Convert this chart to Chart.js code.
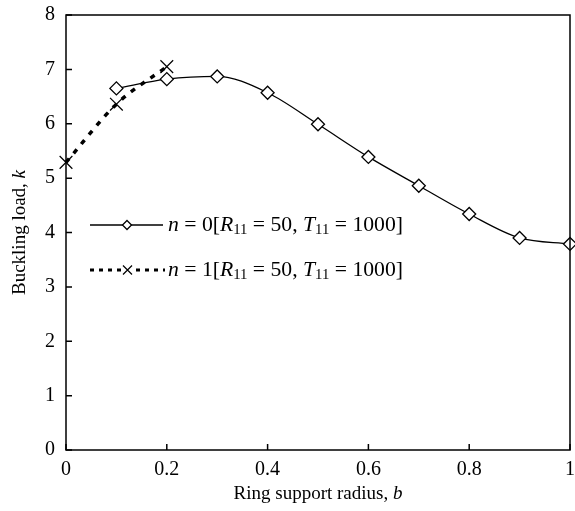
<!DOCTYPE html>
<html>
<head>
<meta charset="utf-8">
<script src="https://cdn.jsdelivr.net/npm/chart.js@4.4.1/dist/chart.umd.min.js"></script>
<style>
  html, body { margin: 0; padding: 0; background: #fff; }
</style>
</head>
<body>
<canvas id="myChart" width="575" height="511"></canvas>
<script>
// data
const radiusN0 = [0.1, 0.2, 0.3, 0.4, 0.5, 0.6, 0.7, 0.8, 0.9, 1.0]
const loadN0 = [6.65, 6.82, 6.87, 6.57, 5.99, 5.39, 4.86, 4.34, 3.90, 3.79]
const radiusN1 = [0, 0.1, 0.2]
const loadN1 = [5.29, 6.36, 7.05]
const xTicks = [0, 0.2, 0.4, 0.6, 0.8, 1]
const yTicks = [0, 1, 2, 3, 4, 5, 6, 7, 8]
const legendLabels = ['n = 0', 'n = 1']

const FONT = 'Liberation Serif'
Chart.defaults.font.family = FONT
Chart.defaults.font.size = 20
Chart.defaults.color = '#000'

// text with italic parts and subscripts
function drawRich(ctx, x, y, segs, size){
    let cx = x
    segs.forEach(s => {
        const fs = s.sub ? size * 0.68 : size
        ctx.font = `${s.it ? 'italic ' : ''}${fs}px "${FONT}"`
        ctx.fillText(s.t, cx, s.sub ? y + size * 0.22 : y)
        cx += ctx.measureText(s.t).width
    })
    return cx - x
}
function richWidth(ctx, segs, size){
    let w = 0
    segs.forEach(s => {
        const fs = s.sub ? size * 0.68 : size
        ctx.font = `${s.it ? 'italic ' : ''}${fs}px "${FONT}"`
        w += ctx.measureText(s.t).width
    })
    return w
}
function legendSegs(n){
    return [
        {t: 'n', it: true}, {t: ' = ' + n + '['}, {t: 'R', it: true}, {t: '11', sub: true},
        {t: ' = 50, '}, {t: 'T', it: true}, {t: '11', sub: true}, {t: ' = 1000]'}
    ]
}

const framePlugin = {
    id: 'frame',
    afterDraw(chart){
        const {ctx, chartArea: a, scales} = chart
        ctx.save()
        ctx.strokeStyle = '#000'
        ctx.lineWidth = 1.5
        ctx.strokeRect(a.left, a.top, a.right - a.left, a.bottom - a.top)
        // inward ticks
        ctx.beginPath()
        xTicks.forEach(v => {
            const px = scales.x.getPixelForValue(v)
            ctx.moveTo(px, a.bottom); ctx.lineTo(px, a.bottom - 6)
        })
        yTicks.forEach(v => {
            const py = scales.y.getPixelForValue(v)
            ctx.moveTo(a.left, py); ctx.lineTo(a.left + 6, py)
        })
        ctx.stroke()

        // axis titles
        ctx.fillStyle = '#000'
        ctx.textBaseline = 'middle'
        const xt = [{t: 'Ring support radius, '}, {t: 'b', it: true}]
        const xw = richWidth(ctx, xt, 19)
        drawRich(ctx, (a.left + a.right) / 2 - xw / 2, 494, xt, 19)
        const yt = [{t: 'Buckling load, '}, {t: 'k', it: true}]
        const yw = richWidth(ctx, yt, 19)
        ctx.save()
        ctx.translate(20, (a.top + a.bottom) / 2)
        ctx.rotate(-Math.PI / 2)
        drawRich(ctx, -yw / 2, 0, yt, 19)
        ctx.restore()

        // legend
        const rows = [225, 270]
        rows.forEach((ly, i) => {
            ctx.save()
            ctx.strokeStyle = '#000'
            if(i === 0){
                ctx.lineWidth = 1.3
                ctx.beginPath(); ctx.moveTo(90, ly); ctx.lineTo(163, ly); ctx.stroke()
                ctx.fillStyle = '#fff'
                ctx.beginPath()
                ctx.moveTo(127, ly - 4.5); ctx.lineTo(131.5, ly); ctx.lineTo(127, ly + 4.5); ctx.lineTo(122.5, ly)
                ctx.closePath(); ctx.fill(); ctx.stroke()
            } else {
                ctx.lineWidth = 3
                ctx.setLineDash([4, 5])
                ctx.beginPath(); ctx.moveTo(90, ly); ctx.lineTo(121, ly); ctx.moveTo(136, ly); ctx.lineTo(165, ly); ctx.stroke()
                ctx.setLineDash([])
                ctx.lineWidth = 1.2
                ctx.beginPath()
                ctx.moveTo(123, ly - 4.5); ctx.lineTo(132, ly + 4.5); ctx.moveTo(132, ly - 4.5); ctx.lineTo(123, ly + 4.5)
                ctx.stroke()
            }
            ctx.restore()
            ctx.fillStyle = '#000'
            drawRich(ctx, 168, ly, legendSegs(i), 21.7)
        })
        ctx.restore()
    }
}

const ctx = document.getElementById('myChart')
new Chart(ctx, {
    type: 'line',
    data: {
        datasets: [{
            label: legendLabels[1],
            data: radiusN1.map((b, i) => ({x: b, y: loadN1[i]})),
            borderColor: '#000',
            borderWidth: 3.5,
            borderDash: [5, 7],
            cubicInterpolationMode: 'monotone',
            pointStyle: 'crossRot',
            pointRadius: 9,
            pointBorderWidth: 1.2,
            pointBorderColor: '#000',
            clip: false,
            order: 0
        }, {
            label: legendLabels[0],
            data: radiusN0.map((b, i) => ({x: b, y: loadN0[i]})),
            borderColor: '#000',
            borderWidth: 1.3,
            cubicInterpolationMode: 'monotone',
            pointStyle: 'rectRot',
            pointRadius: 6.5,
            pointBorderWidth: 1.3,
            pointBorderColor: '#000',
            pointBackgroundColor: '#fff',
            clip: false,
            order: 1
        }]
    },
    options: {
        responsive: false,
        animation: false,
        layout: {autoPadding: false, padding: {left: 0, right: 5, top: 15, bottom: 0}},
        plugins: {legend: {display: false}, tooltip: {enabled: false}},
        scales: {
            x: {
                type: 'linear', min: 0, max: 1,
                afterBuildTicks: s => { s.ticks = xTicks.map(v => ({value: v})) },
                afterFit: s => { s.height = 61; s.paddingLeft = 0; s.paddingRight = 0 },
                grid: {display: false, drawTicks: false},
                border: {display: false},
                ticks: {padding: 8, maxRotation: 0, font: {size: 20}, callback: v => String(v)}
            },
            y: {
                min: 0, max: 8,
                afterBuildTicks: s => { s.ticks = yTicks.map(v => ({value: v})) },
                afterFit: s => { s.width = 66; s.paddingTop = 0; s.paddingBottom = 0 },
                grid: {display: false, drawTicks: false},
                border: {display: false},
                ticks: {padding: 11, font: {size: 20}}
            }
        }
    },
    plugins: [framePlugin]
})
</script>
</body>
</html>
